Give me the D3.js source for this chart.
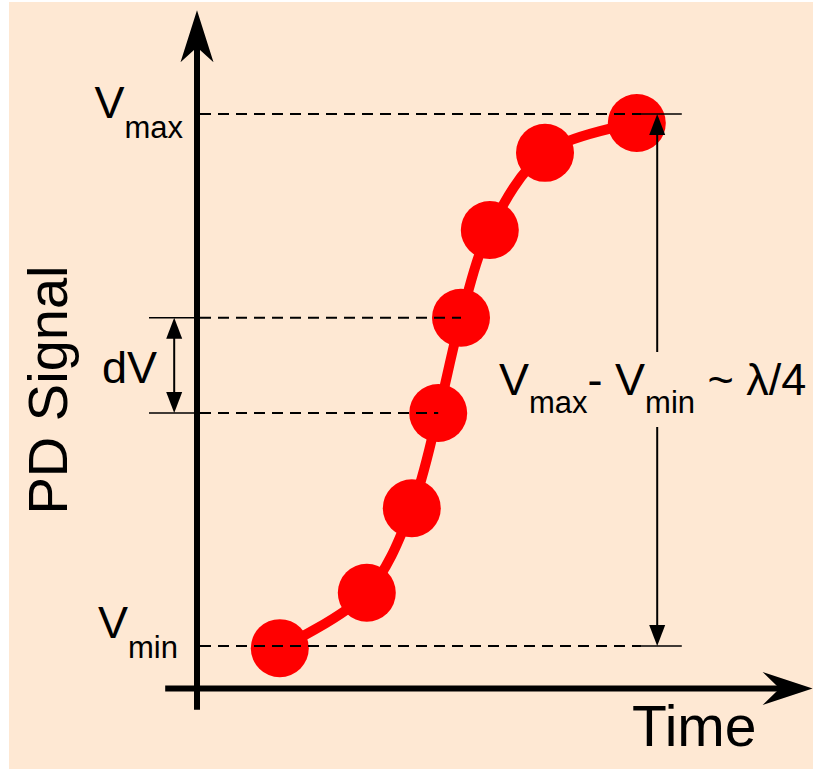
<!DOCTYPE html>
<html>
<head>
<meta charset="utf-8">
<script src="https://cdn.jsdelivr.net/npm/d3@7"></script>
<style>
  html, body { margin: 0; padding: 0; background: #fff; }
  svg { display: block; }
  text { font-family: "Liberation Sans", Arial, sans-serif; fill: #000; }
</style>
</head>
<body>
<svg width="813" height="769"></svg>
<script>
// data (time in arbitrary units, signal normalised so Vmin = 0, Vmax = 1)
var times   = [13.8, 28.3, 35.8, 40.2, 44.0, 48.8, 58.0, 73.3];
var signals = [-0.004, 0.10, 0.259, 0.438, 0.617, 0.782, 0.927, 0.983];
var vmin = 0, vmax = 1;
var dvLow = 3, dvHigh = 4;          // indices of the points bounding dV
var labels = { y: "PD Signal", x: "Time" };

var svg = d3.select("svg"),
    width = 813,
    height = 769;

var x = d3.scaleLinear().domain([0, 100]).range([197, 797]),
    y = d3.scaleLinear().domain([0, 1]).range([646, 114]);

svg.append("rect")
    .attr("x", 9).attr("y", 2)
    .attr("width", width - 9).attr("height", height - 2)
    .attr("fill", "#fee8d3");

// axes drawn as arrows
var yTop = y(1.195), yBottom = y(-0.12),
    xLeft = x(-5.3), xRight = x(102.6);

svg.append("line")
    .attr("x1", x(0)).attr("x2", x(0))
    .attr("y1", yBottom).attr("y2", yTop + 30)
    .attr("stroke", "#000").attr("stroke-width", 6);
svg.append("path")
    .attr("d", "M" + x(0) + "," + yTop + "L" + (x(0) + 16.5) + "," + (yTop + 52) +
               "L" + x(0) + "," + (yTop + 37) + "L" + (x(0) - 16.5) + "," + (yTop + 52) + "Z")
    .attr("fill", "#000");

svg.append("line")
    .attr("x1", xLeft).attr("x2", xRight - 30)
    .attr("y1", y(-0.08)).attr("y2", y(-0.08))
    .attr("stroke", "#000").attr("stroke-width", 6);
var ya = y(-0.08);
svg.append("path")
    .attr("d", "M" + xRight + "," + ya + "L" + (xRight - 50) + "," + (ya - 16.5) +
               "L" + (xRight - 33) + "," + ya + "L" + (xRight - 50) + "," + (ya + 16.5) + "Z")
    .attr("fill", "#000");

// red curve and points
var pts = times.map(function(t, i) { return [x(t), y(signals[i])]; });

svg.append("path")
    .datum(pts)
    .attr("d", d3.line().curve(d3.curveCatmullRom.alpha(0.5)))
    .attr("fill", "none")
    .attr("stroke", "#ff0000")
    .attr("stroke-width", 10);

svg.append("g")
  .selectAll("circle")
  .data(pts)
  .enter().append("circle")
    .attr("cx", function(d) { return d[0]; })
    .attr("cy", function(d) { return d[1]; })
    .attr("r", 29)
    .attr("fill", "#ff0000");

// dashed guide lines
var guides = [
  { v: vmax, end: 74 },
  { v: vmin, end: 74 },
  { v: signals[dvHigh], end: times[dvHigh] },
  { v: signals[dvLow], end: times[dvLow] }
];
svg.append("g")
  .selectAll("line")
  .data(guides)
  .enter().append("line")
    .attr("x1", x(0.5)).attr("x2", function(d) { return x(d.end); })
    .attr("y1", function(d) { return y(d.v); })
    .attr("y2", function(d) { return y(d.v); })
    .attr("stroke", "#000").attr("stroke-width", 2)
    .attr("stroke-dasharray", "11,7");

// solid ticks at the range arrow
var tx = x(76.7);
[vmax, vmin].forEach(function(v) {
  svg.append("line")
      .attr("x1", x(73.3)).attr("x2", x(80.8))
      .attr("y1", y(v)).attr("y2", y(v))
      .attr("stroke", "#000").attr("stroke-width", 1.5);
});

function head(px, py, dir) {
  // dir = 1 points down, -1 points up
  svg.append("path")
      .attr("d", "M" + px + "," + py + "L" + (px - 8) + "," + (py - dir * 21) +
                 "L" + (px + 8) + "," + (py - dir * 21) + "Z")
      .attr("fill", "#000");
}

svg.append("line")
    .attr("x1", tx).attr("x2", tx).attr("y1", y(vmax) + 18).attr("y2", 352)
    .attr("stroke", "#000").attr("stroke-width", 2);
svg.append("line")
    .attr("x1", tx).attr("x2", tx).attr("y1", 427).attr("y2", y(vmin) - 18)
    .attr("stroke", "#000").attr("stroke-width", 2);
head(tx, y(vmax), -1);
head(tx, y(vmin), 1);

// dV arrow
var dx = x(-3.8);
[signals[dvHigh], signals[dvLow]].forEach(function(v) {
  svg.append("line")
      .attr("x1", x(-8)).attr("x2", x(0))
      .attr("y1", y(v)).attr("y2", y(v))
      .attr("stroke", "#000").attr("stroke-width", 1.5);
});
svg.append("line")
    .attr("x1", dx).attr("x2", dx)
    .attr("y1", y(signals[dvHigh]) + 18).attr("y2", y(signals[dvLow]) - 18)
    .attr("stroke", "#000").attr("stroke-width", 2);
head(dx, y(signals[dvHigh]), -1);
head(dx, y(signals[dvLow]), 1);

// labels
function vlabel(sub, xr, yb) {
  var t = svg.append("text")
      .attr("x", xr).attr("y", yb)
      .attr("text-anchor", "end");
  t.append("tspan").attr("font-size", 45).text("V");
  t.append("tspan").attr("font-size", 31).attr("dy", 20).text(sub);
}
vlabel("max", 183, y(vmax) + 4);
vlabel("min", 178, y(vmin) - 8);

svg.append("text")
    .attr("x", 102).attr("y", 383)
    .attr("font-size", 45)
    .text("dV");

var r = svg.append("text")
    .attr("x", 499).attr("y", 395);
r.append("tspan").attr("font-size", 45).text("V");
r.append("tspan").attr("font-size", 31).attr("dy", 18).text("max");
r.append("tspan").attr("font-size", 45).attr("dy", -18).text("- V");
r.append("tspan").attr("font-size", 31).attr("dy", 18).text("min");
r.append("tspan").attr("font-size", 45).attr("dy", -18).text(" ~ \u03bb/4");

svg.append("text")
    .attr("transform", "translate(67,390) rotate(-90)")
    .attr("text-anchor", "middle")
    .attr("font-size", 56)
    .text(labels.y);

svg.append("text")
    .attr("x", 632).attr("y", 746)
    .attr("font-size", 57)
    .text(labels.x);
</script>
</body>
</html>
